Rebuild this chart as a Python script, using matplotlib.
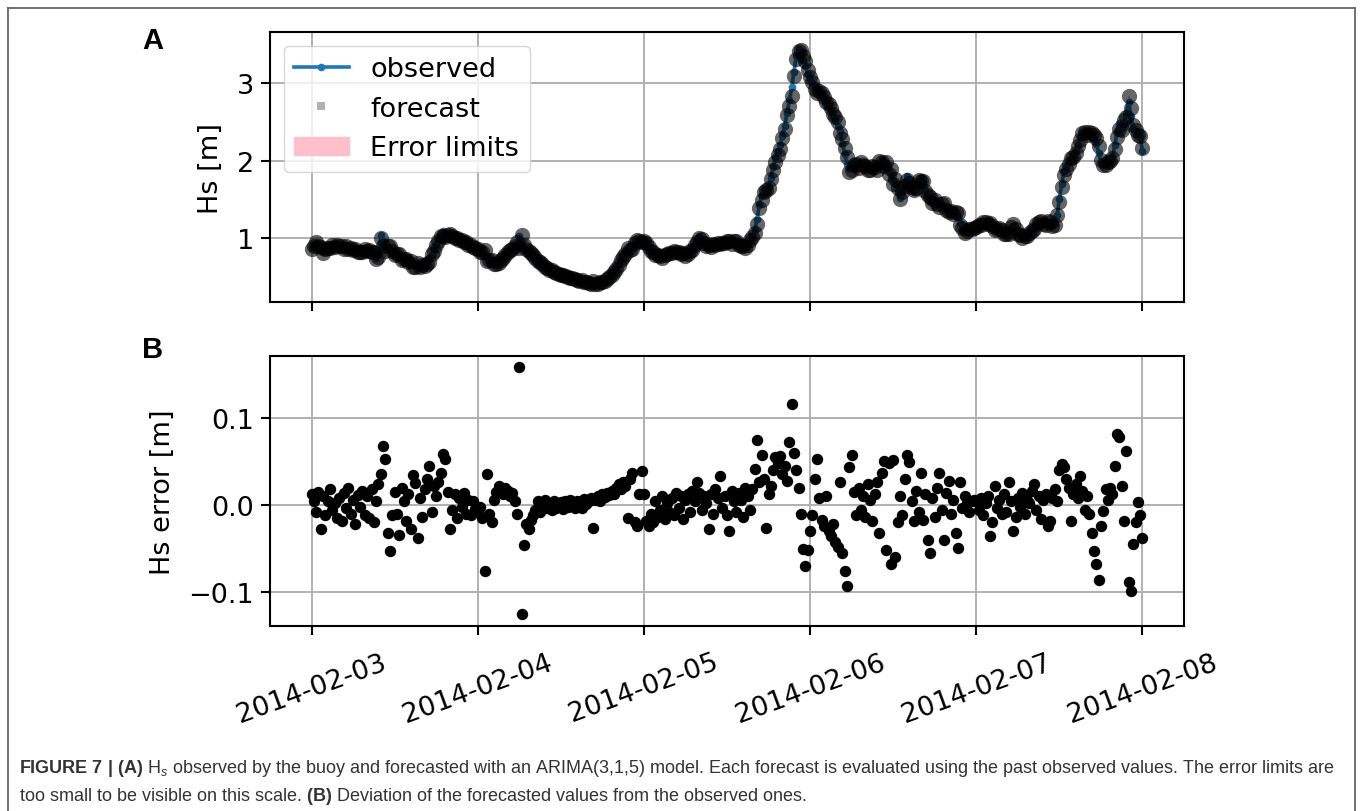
import numpy as np
import pandas as pd
import matplotlib
matplotlib.use("Agg")
import matplotlib.pyplot as plt
import matplotlib.dates as mdates
from matplotlib.lines import Line2D

# ---------------------------------------------------------------------------
# Significant wave height observed by the buoy, 20-minute steps,
# 2014-02-03 00:00 .. 2014-02-08 00:00  [m]
hs_observed = [
    0.87, 0.90, 0.94, 0.91, 0.85, 0.82, 0.84, 0.87, 0.89, 0.90, 0.88, 0.89,
    0.90, 0.88, 0.87, 0.89, 0.88, 0.86, 0.85, 0.84, 0.83, 0.82, 0.84, 0.85,
    0.84, 0.83, 0.84, 0.80, 0.74, 0.78, 1.04, 0.96, 0.88, 0.86, 0.84, 0.82,
    0.80, 0.78, 0.76, 0.74, 0.73, 0.71, 0.70, 0.68, 0.66, 0.65, 0.64, 0.63,
    0.64, 0.66, 0.70, 0.74, 0.78, 0.85, 0.92, 0.99, 1.06, 1.09, 1.07, 1.05,
    1.03, 1.02, 1.01, 0.99, 0.98, 0.97, 0.96, 0.94, 0.92, 0.90, 0.89, 0.87,
    0.85, 0.82, 0.80, 0.77, 0.74, 0.71, 0.69, 0.67, 0.68, 0.70, 0.73, 0.76,
    0.80, 0.83, 0.85, 0.87, 0.90, 0.94, 1.03, 0.92, 0.87, 0.84, 0.81, 0.79,
    0.77, 0.74, 0.71, 0.68, 0.66, 0.63, 0.61, 0.59, 0.58, 0.56, 0.55, 0.54,
    0.53, 0.52, 0.51, 0.50, 0.49, 0.48, 0.47, 0.46, 0.45, 0.45, 0.44, 0.43,
    0.42, 0.41, 0.42, 0.41, 0.42, 0.43, 0.44, 0.46, 0.48, 0.51, 0.54, 0.58,
    0.62, 0.67, 0.73, 0.78, 0.82, 0.85, 0.88, 0.90, 0.92, 0.95, 0.97, 0.99,
    0.98, 0.92, 0.86, 0.82, 0.80, 0.79, 0.77, 0.76, 0.75, 0.77, 0.79, 0.80,
    0.81, 0.82, 0.83, 0.81, 0.80, 0.79, 0.78, 0.80, 0.82, 0.86, 0.92, 0.98,
    1.02, 0.98, 0.94, 0.90, 0.88, 0.90, 0.91, 0.93, 0.94, 0.95, 0.93, 0.94,
    0.95, 0.93, 0.94, 0.96, 0.95, 0.93, 0.90, 0.88, 0.89, 0.92, 0.97, 1.03,
    1.10, 1.25, 1.42, 1.55, 1.62, 1.60, 1.66, 1.78, 1.92, 2.04, 2.12, 2.20,
    2.32, 2.45, 2.62, 2.78, 2.95, 3.15, 3.35, 3.44, 3.42, 3.30, 3.22, 3.12,
    3.05, 3.00, 2.95, 2.92, 2.90, 2.86, 2.80, 2.76, 2.70, 2.64, 2.58, 2.52,
    2.45, 2.38, 2.22, 2.08, 1.95, 1.90, 1.93, 1.96, 1.95, 1.93, 1.97, 1.95,
    1.92, 1.90, 1.88, 1.91, 1.93, 1.90, 1.96, 2.02, 1.98, 1.93, 1.87, 1.82,
    1.75, 1.70, 1.62, 1.52, 1.58, 1.70, 1.80, 1.76, 1.66, 1.60, 1.66, 1.74,
    1.77, 1.72, 1.62, 1.52, 1.47, 1.46, 1.48, 1.46, 1.44, 1.43, 1.41, 1.38,
    1.36, 1.34, 1.32, 1.30, 1.27, 1.20, 1.12, 1.08, 1.09, 1.11, 1.12, 1.13,
    1.14, 1.16, 1.18, 1.20, 1.21, 1.19, 1.16, 1.14, 1.12, 1.11, 1.13, 1.10,
    1.06, 1.04, 1.08, 1.14, 1.15, 1.10, 1.06, 1.04, 1.02, 1.01, 1.03, 1.07,
    1.11, 1.14, 1.18, 1.22, 1.21, 1.19, 1.18, 1.20, 1.19, 1.16, 1.18, 1.30,
    1.50, 1.70, 1.86, 1.92, 1.98, 2.02, 2.06, 2.12, 2.20, 2.30, 2.37, 2.36,
    2.34, 2.36, 2.33, 2.28, 2.22, 2.10, 1.98, 1.94, 1.96, 1.99, 2.02, 2.04,
    2.20, 2.38, 2.48, 2.42, 2.50, 2.62, 2.75, 2.58, 2.42, 2.38, 2.33, 2.30,
    2.12,
]

# Observed minus ARIMA(3,1,5) one-step forecast, same time steps  [m]
hs_error = [
    0.012, 0.005, -0.008, 0.015, -0.028, 0.010, -0.012, 0.004, 0.018, -0.006, 0.002, -0.015,
    0.008, -0.018, 0.014, -0.004, 0.020, -0.010, 0.006, -0.022, 0.011, -0.002, 0.016, -0.012,
    0.010, -0.015, 0.018, -0.020, 0.005, 0.024, 0.036, 0.068, 0.053, -0.032, -0.053, -0.012,
    0.015, -0.010, -0.034, 0.020, 0.004, -0.018, 0.012, -0.028, 0.034, 0.025, -0.038, 0.008,
    -0.014, 0.018, 0.030, 0.045, -0.008, 0.022, 0.010, 0.026, 0.037, 0.059, 0.053, 0.015,
    -0.028, -0.006, 0.012, -0.015, 0.008, -0.002, 0.014, -0.010, 0.006, -0.012, 0.004, -0.005,
    -0.008, -0.002, -0.015, -0.076, 0.036, -0.010, -0.020, 0.006, 0.015, 0.022, 0.018, 0.012,
    0.020, 0.016, 0.010, 0.014, 0.004, -0.010, 0.158, -0.125, -0.046, -0.022, -0.028, -0.017,
    -0.012, -0.006, 0.004, -0.008, -0.002, 0.006, -0.004, 0.002, -0.006, 0.005, -0.003, 0.001,
    0.003, -0.005, 0.004, -0.002, 0.006, 0.000, -0.004, 0.005, 0.002, -0.003, 0.007, 0.001,
    0.004, 0.008, -0.026, 0.006, 0.010, 0.004, 0.012, 0.009, 0.014, 0.011, 0.016, 0.013,
    0.020, 0.024, 0.018, 0.026, 0.022, -0.015, 0.030, 0.037, -0.020, -0.024, 0.012, 0.039,
    0.012, -0.018, -0.024, -0.010, -0.020, 0.005, -0.014, -0.006, 0.010, -0.016, 0.002, -0.008,
    0.008, -0.012, 0.014, -0.004, 0.010, -0.016, 0.006, 0.012, -0.008, 0.016, 0.004, 0.026,
    0.014, -0.006, 0.010, 0.002, -0.028, 0.012, -0.010, 0.018, 0.008, 0.033, -0.004, 0.010,
    -0.012, -0.030, 0.016, 0.004, -0.008, 0.014, 0.006, -0.014, 0.020, 0.010, -0.006, 0.018,
    0.041, 0.074, 0.026, 0.057, 0.030, -0.026, 0.012, 0.022, 0.040, 0.055, 0.048, 0.056,
    0.035, 0.045, 0.028, 0.072, 0.116, 0.060, 0.040, 0.020, -0.010, -0.051, -0.070, -0.052,
    -0.030, -0.012, 0.030, 0.053, 0.008, -0.017, -0.024, 0.010, -0.030, -0.036, -0.022, -0.042,
    -0.048, 0.026, -0.055, -0.076, -0.093, 0.043, 0.057, 0.015, -0.012, 0.020, -0.006, 0.010,
    -0.014, 0.024, 0.006, -0.018, 0.012, 0.026, -0.032, 0.037, 0.050, -0.052, 0.048, -0.068,
    0.052, -0.060, -0.020, 0.010, -0.012, 0.030, 0.057, 0.049, 0.004, -0.018, 0.016, -0.008,
    0.037, -0.017, 0.012, -0.040, -0.055, 0.008, -0.014, 0.020, 0.037, -0.006, -0.040, 0.014,
    0.028, -0.010, 0.006, -0.032, -0.049, 0.026, -0.004, 0.010, 0.002, -0.008, 0.004, 0.006,
    0.004, -0.006, 0.008, -0.012, 0.002, 0.010, -0.036, -0.020, 0.022, -0.004, 0.006, -0.010,
    0.012, -0.008, 0.026, 0.004, -0.030, -0.014, 0.008, -0.002, 0.014, -0.010, 0.006, 0.002,
    0.016, 0.024, -0.006, 0.010, -0.016, 0.006, 0.012, -0.024, -0.018, 0.008, 0.018, 0.004,
    0.040, 0.047, 0.044, 0.030, 0.020, -0.018, 0.012, 0.024, 0.008, 0.033, 0.016, -0.006,
    0.010, -0.010, -0.032, -0.053, -0.068, -0.086, -0.024, -0.007, 0.018, 0.006, 0.020, 0.012,
    0.045, 0.082, 0.078, 0.022, -0.018, 0.062, -0.088, -0.099, -0.045, -0.020, 0.003, -0.012,
    -0.038,
]

error_limit = 0.004          # half-width of the forecast error band [m]
start_time = "2014-02-03 00:00"
step = "20min"

hs_ticks = [1, 2, 3]
err_ticks = [-0.1, 0.0, 0.1]

caption_lines = [
    r"$\mathbf{FIGURE\ 7\ |\ (A)}$ H$_{s}$ observed by the buoy and forecasted with an "
    r"ARIMA(3,1,5) model. Each forecast is evaluated using the past observed values. "
    r"The error limits are",
    r"too small to be visible on this scale. $\mathbf{(B)}$ Deviation of the forecasted "
    r"values from the observed ones.",
]

# ---------------------------------------------------------------------------
plt.rcParams.update({
    "font.size": 19.5,
    "axes.linewidth": 1.5,
    "axes.labelpad": 9,
    "xtick.major.size": 6.5, "ytick.major.size": 6.5,
    "xtick.major.width": 1.5, "ytick.major.width": 1.5,
    "xtick.major.pad": 10, "ytick.major.pad": 5,
    "grid.linewidth": 1.4, "grid.color": "#b0b0b0",
    "mathtext.fontset": "custom",
    "mathtext.rm": "Liberation Sans",
    "mathtext.it": "Liberation Sans:italic",
    "mathtext.bf": "Liberation Sans:bold",
})

W, H = 1360, 812
fig = plt.figure(figsize=(W / 100, H / 100), dpi=100)


def px_box(left, top, right, bottom):
    return [left / W, 1 - bottom / H, (right - left) / W, (bottom - top) / H]


ax_a = fig.add_axes(px_box(270, 33, 1184, 303))
ax_b = fig.add_axes(px_box(270, 357, 1184, 627), sharex=ax_a)

time = pd.date_range(start_time, periods=len(hs_observed), freq=step)
obs = np.asarray(hs_observed)
err = np.asarray(hs_error)
forecast = obs - err

# Panel A: observed series, forecasts and their error band
band = ax_a.fill_between(time, forecast - error_limit, forecast + error_limit,
                         color="pink", label="Error limits", zorder=1)
(l_obs,) = ax_a.plot(time, obs, "-o", color="#1f77b4", lw=2.6, ms=4.5,
                     label="observed", zorder=2)
ax_a.plot(time, forecast, "o", color="black", alpha=0.6, ms=11,
          mew=0, zorder=3)
fc_key = Line2D([], [], ls="none", marker="s", color="black", alpha=0.3,
                ms=5.5, mew=0, label="forecast")
ax_a.set_ylim(0.174, 3.66)
ax_a.set_yticks(hs_ticks)
ax_a.set_ylabel("Hs [m]")
ax_a.grid(True)
ax_a.legend(handles=[l_obs, fc_key, band], loc="upper left")
ax_a.tick_params(labelbottom=False)

# Panel B: forecast deviation
ax_b.plot(time, err, "o", color="black", ms=7.2, zorder=3)
ax_b.set_ylim(-0.139, 0.171)
ax_b.set_yticks(err_ticks)
ax_b.set_ylabel("Hs error [m]")
ax_b.grid(True)

ax_b.xaxis.set_major_locator(mdates.DayLocator())
ax_b.xaxis.set_major_formatter(mdates.DateFormatter("%Y-%m-%d"))
for lab in ax_b.get_xticklabels():
    lab.set_rotation(20)
    lab.set_ha("center")

# Panel letters
for letter, y in (("A", 41), ("B", 350)):
    fig.text(153 / W, 1 - y / H, letter, fontsize=21, weight="bold",
             family="Liberation Sans", ha="center", va="center")

# Caption
for text, y in zip(caption_lines, (769, 797)):
    fig.text(19 / W, 1 - y / H, text, fontsize=13, family="Liberation Sans",
             color="#333333", ha="left", va="center")

# Frame around the figure (open at the bottom)
frame_kw = dict(transform=fig.transFigure, color="#666666", lw=1.3)
fig.add_artist(Line2D([8 / W, 8 / W], [0, 1 - 9 / H], **frame_kw))
fig.add_artist(Line2D([1355 / W, 1355 / W], [0, 1 - 9 / H], **frame_kw))
fig.add_artist(Line2D([8 / W, 1355 / W], [1 - 9 / H, 1 - 9 / H], **frame_kw))

fig.savefig("out.png", dpi=100)
